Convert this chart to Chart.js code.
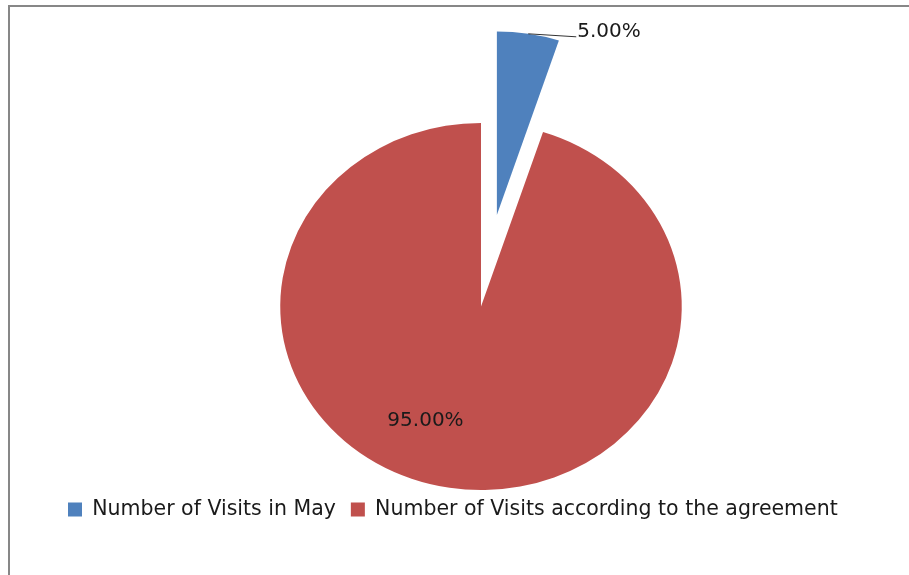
<!DOCTYPE html>
<html lang="en">
<head>
    <meta charset="UTF-8">
    <title>Number of Visits</title>
    <script src="https://cdn.jsdelivr.net/npm/chart.js"></script>
    <style>
        body { margin: 0; background: #fff; }
        canvas { display: block; }
    </style>
</head>
<body>
    <canvas id="visits-chart" width="909" height="575"></canvas>

    <script>
        // chart data
        const categories = ['Number of Visits in May', 'Number of Visits according to the agreement'];
        const shares = [5, 95];
        const valueLabels = ['5.00%', '95.00%'];
        const sliceColors = ['#4F81BD', '#C0504D'];

        // the original picture is a bit wider than tall
        const stretchX = 1.094;
        // how far each slice is pulled out of the pie (px, along its middle angle)
        const explode = [92.6, 0];

        function pieCenter(chart) {
            const a = chart.chartArea;
            return { x: (a.left + a.right) / 2, y: (a.top + a.bottom) / 2 };
        }

        // x position after the horizontal stretch
        function sx(chart, x) {
            const c = pieCenter(chart);
            return c.x + (x - c.x) * stretchX;
        }

        // gray frame round the chart (only top and left edges are in view)
        const framePlugin = {
            id: 'frame',
            beforeDraw(chart) {
                const ctx = chart.ctx;
                ctx.save();
                ctx.fillStyle = '#878787';
                ctx.fillRect(8, 5, chart.width - 8, 2);
                ctx.fillRect(8, 5, 2, chart.height - 5);
                ctx.restore();
            }
        };

        // Excel style explode: move the whole wedge out, without growing it
        const explodePlugin = {
            id: 'explode',
            afterDatasetsUpdate(chart) {
                const c = pieCenter(chart);
                chart.getDatasetMeta(0).data.forEach((arc, i) => {
                    const mid = (arc.startAngle + arc.endAngle) / 2;
                    arc.x = c.x + Math.cos(mid) * explode[i];
                    arc.y = c.y + Math.sin(mid) * explode[i];
                });
            }
        };

        // stretch the pie horizontally round its centre
        const stretchPlugin = {
            id: 'stretch',
            beforeDatasetsDraw(chart) {
                const c = pieCenter(chart);
                const ctx = chart.ctx;
                ctx.save();
                ctx.translate(c.x, c.y);
                ctx.scale(stretchX, 1);
                ctx.translate(-c.x, -c.y);
            },
            afterDatasetsDraw(chart) {
                chart.ctx.restore();
            }
        };

        // percentage labels: outside with a leader line for the small slice, inside for the big one
        const labelPlugin = {
            id: 'sliceLabels',
            afterDraw(chart) {
                const ctx = chart.ctx;
                const meta = chart.getDatasetMeta(0);
                ctx.save();
                ctx.font = '20px "DejaVu Sans"';
                ctx.fillStyle = '#1a1a1a';
                ctx.strokeStyle = '#333';
                ctx.lineWidth = 1;
                meta.data.forEach((arc, i) => {
                    const mid = (arc.startAngle + arc.endAngle) / 2;
                    if (i === 0) {
                        const r = arc.outerRadius;
                        const px = sx(chart, arc.x + Math.cos(mid) * r);
                        const py = arc.y + Math.sin(mid) * r;
                        const ex = px + 48, ey = py + 3;
                        ctx.beginPath();
                        ctx.moveTo(px, py);
                        ctx.lineTo(ex, ey);
                        ctx.stroke();
                        ctx.textAlign = 'left';
                        ctx.textBaseline = 'alphabetic';
                        ctx.fillText(valueLabels[i], ex + 1, ey);
                    } else {
                        const a = mid + 15 * Math.PI / 180;
                        const r = arc.outerRadius * 0.68;
                        const tx = sx(chart, arc.x + Math.cos(a) * r);
                        const ty = arc.y + Math.sin(a) * r;
                        ctx.textAlign = 'center';
                        ctx.textBaseline = 'middle';
                        ctx.fillText(valueLabels[i], tx, ty);
                    }
                });
                ctx.restore();
            }
        };

        const ctx = document.getElementById('visits-chart').getContext('2d');
        const chart = new Chart(ctx, {
            type: 'pie',
            data: {
                labels: categories,
                datasets: [{
                    data: shares,
                    backgroundColor: sliceColors,
                    borderWidth: 0,
                    hoverOffset: 0
                }]
            },
            options: {
                responsive: false,
                animation: false,
                radius: 183.5,
                layout: {
                    padding: { left: 53, right: -4, top: 128.75, bottom: 45.25 }
                },
                plugins: {
                    legend: {
                        position: 'bottom',
                        align: 'start',
                        labels: {
                            boxWidth: 14,
                            boxHeight: 14,
                            padding: 15,
                            color: '#1a1a1a',
                            font: { family: 'DejaVu Sans', size: 20.5 }
                        }
                    },
                    tooltip: { enabled: false }
                }
            },
            plugins: [framePlugin, explodePlugin, stretchPlugin, labelPlugin]
        });
    </script>
</body>
</html>
